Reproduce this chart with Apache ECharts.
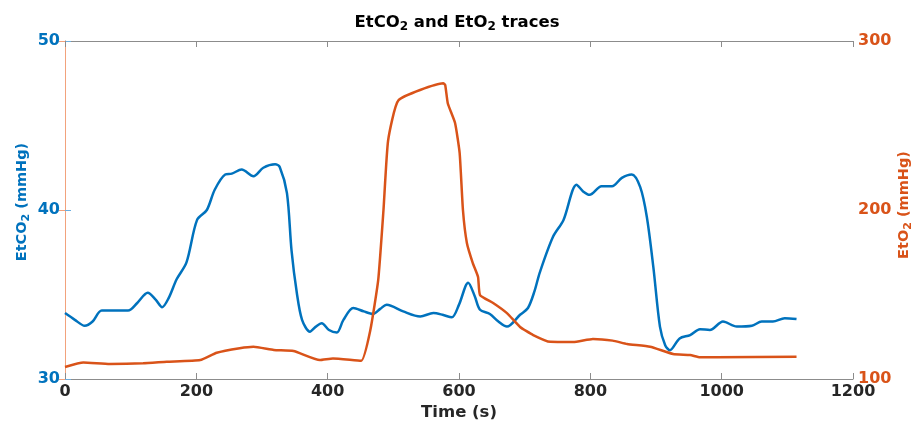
<!DOCTYPE html>
<head>
<meta charset="utf-8">
<title>EtCO2 and EtO2 traces</title>
</head>
<body style="margin:0">
<div id="main" style="width: 914px; height: 424px"></div>
<script src="https://cdn.jsdelivr.net/npm/echarts@6/dist/echarts.min.js"></script>
<script>
// EtCO2 trace: [time (s), mmHg]
var etco2 = [
    [0,33.9],[15,33.5],[30,33.15],[42,33.4],[56,34.05],[96,34.05],[110,34.5],[126,35.1],[138,34.7],
    [148,34.25],[158,34.8],[170,35.9],[185,36.9],[201,39.4],[216,40.0],[228,41.2],[244,42.1],[254,42.15],
    [269,42.4],[287,42.0],[302,42.5],[320,42.7],[327,42.55],[338,41.0],[345,37.6],[353,35.1],[361,33.5],
    [373,32.8],[382,33.1],[391,33.3],[402,32.9],[414,32.75],[424,33.5],[439,34.2],[455,34.0],[469,33.85],
    [480,34.15],[490,34.4],[515,34.0],[541,33.7],[561,33.9],[575,33.8],[589,33.65],[600,34.4],[614,35.7],
    [624,34.9],[632,34.1],[647,33.85],[660,33.4],[673,33.1],[693,33.8],[705,34.2],[715,35.2],[723,36.3],
    [743,38.4],[759,39.4],[779,41.5],[789,41.1],[799,40.9],[817,41.4],[833,41.4],[848,41.9],[863,42.1],
    [876,41.35],[886,39.6],[896,36.6],[906,33.1],[914,32.0],[921,31.7],[936,32.4],[952,32.6],[967,32.95],
    [982,32.9],[1002,33.4],[1023,33.1],[1046,33.15],[1061,33.4],[1078,33.4],[1096,33.6],[1114,33.55]
];
// EtO2 trace: [time (s), mmHg]
var eto2 = [
    [0,107.1],[28,109.7],[68,108.9],[119,109.3],[155,110.2],[206,111.2],[231,115.5],[266,118.2],
    [287,119.1],[318,117.2],[348,116.6],[388,111.2],[408,112.2],[451,110.8],[465,129],[477,158.6],
    [485,200],[492,241],[508,265],[576,275],[579,274],[583,263],[594,251.5],[601,233.7],[606,200],
    [612,180.5],[621,168.6],[629,160.4],[632,149.7],[652,145],[673,139],[693,130.8],[713,126],
    [739,122],[774,121.9],[804,123.7],[834,122.7],[856,120.7],[891,119.1],[926,114.8],[952,114.2],
    [967,112.8],[993,112.8],[1114,113.2]
];
var xTicks = [0, 200, 400, 600, 800, 1000, 1200];
var leftTicks = [30, 40, 50];
var rightTicks = [100, 200, 300];

var blue = '#0072BD';
var orange = '#D95319';
var dark = '#262626';
var font = 'DejaVu Sans';

var myChart = echarts.init(document.getElementById('main'));
myChart.setOption({
    animation: false,
    backgroundColor: '#ffffff',
    title: {
        text: 'EtCO{s|2} and EtO{s|2} traces',
        left: 'center',
        top: 7,
        textStyle: {
            fontFamily: font, fontSize: 16.5, fontWeight: 'bold', color: '#000',
            rich: {
                s: { fontFamily: font, fontSize: 12, fontWeight: 'bold', color: '#000', padding: [9, 0, 0, 0] }
            }
        }
    },
    grid: { left: 65, right: 61, top: 41, bottom: 45, containLabel: false, outerBoundsMode: 'none' },
    xAxis: [{
        type: 'value',
        min: 0, max: 1200, interval: 200,
        position: 'bottom',
        name: 'Time (s)',
        nameLocation: 'middle',
        nameGap: 25,
        nameMoveOverlap: false,
        nameTextStyle: { fontFamily: font, fontSize: 16.5, fontWeight: 'bold', color: dark },
        axisLine: { lineStyle: { color: '#8c8c8c', width: 1 } },
        axisTick: { inside: true, length: 6, lineStyle: { color: '#8c8c8c' } },
        axisLabel: {
            fontFamily: font, fontSize: 16, fontWeight: 'bold', color: dark, margin: 5,
            formatter: function (v) { return xTicks.indexOf(v) >= 0 ? v : ''; }
        },
        splitLine: { show: false }
    }, {
        type: 'value',
        min: 0, max: 1200, interval: 200,
        position: 'top',
        axisLine: { lineStyle: { color: '#8c8c8c', width: 1 } },
        axisTick: { inside: true, length: 6, lineStyle: { color: '#8c8c8c' } },
        axisLabel: { show: false },
        splitLine: { show: false }
    }],
    yAxis: [{
        type: 'value',
        min: 30, max: 50, interval: 10,
        position: 'left',
        name: 'EtCO{s|2} (mmHg)',
        nameLocation: 'middle',
        nameGap: 33,
        nameMoveOverlap: false,
        nameTextStyle: {
            fontFamily: font, fontSize: 14.5, fontWeight: 'bold', color: blue,
            padding: [0, 0, 0, 16],
            rich: { s: { fontFamily: font, fontSize: 11, fontWeight: 'bold', color: blue, padding: [9, 0, 0, 0] } }
        },
        axisLine: { show: true, lineStyle: { color: '#6aaee0', width: 1 } },
        axisTick: { show: true, inside: true, length: 6, lineStyle: { color: '#6aaee0' } },
        axisLabel: {
            fontFamily: font, fontSize: 16, fontWeight: 'bold', color: blue, margin: 5,
            formatter: function (v) { return leftTicks.indexOf(v) >= 0 ? v : ''; }
        },
        splitLine: { show: false }
    }, {
        type: 'value',
        min: 100, max: 300, interval: 100,
        position: 'right',
        name: 'EtO{s|2} (mmHg)',
        nameLocation: 'middle',
        nameGap: 41,
        nameRotate: 90,
        nameMoveOverlap: false,
        nameTextStyle: {
            fontFamily: font, fontSize: 14.5, fontWeight: 'bold', color: orange,
            padding: [0, 0, 0, 10],
            rich: { s: { fontFamily: font, fontSize: 11, fontWeight: 'bold', color: orange, padding: [9, 0, 0, 0] } }
        },
        axisLine: { show: true, lineStyle: { color: '#f2a27c', width: 1 } },
        axisTick: { show: true, inside: true, length: 6, lineStyle: { color: '#f2a27c' } },
        axisLabel: {
            fontFamily: font, fontSize: 16, fontWeight: 'bold', color: orange, margin: 5,
            formatter: function (v) { return rightTicks.indexOf(v) >= 0 ? v : ''; }
        },
        splitLine: { show: false }
    }],
    series: [{
        name: 'EtCO2',
        type: 'line',
        yAxisIndex: 0,
        data: etco2,
        showSymbol: false,
        smooth: 0.3,
        lineStyle: { color: blue, width: 2.5 }
    }, {
        name: 'EtO2',
        type: 'line',
        yAxisIndex: 1,
        data: eto2,
        showSymbol: false,
        smooth: 0.15,
        lineStyle: { color: orange, width: 2.5 }
    }]
});
</script>
</body>
</html>
